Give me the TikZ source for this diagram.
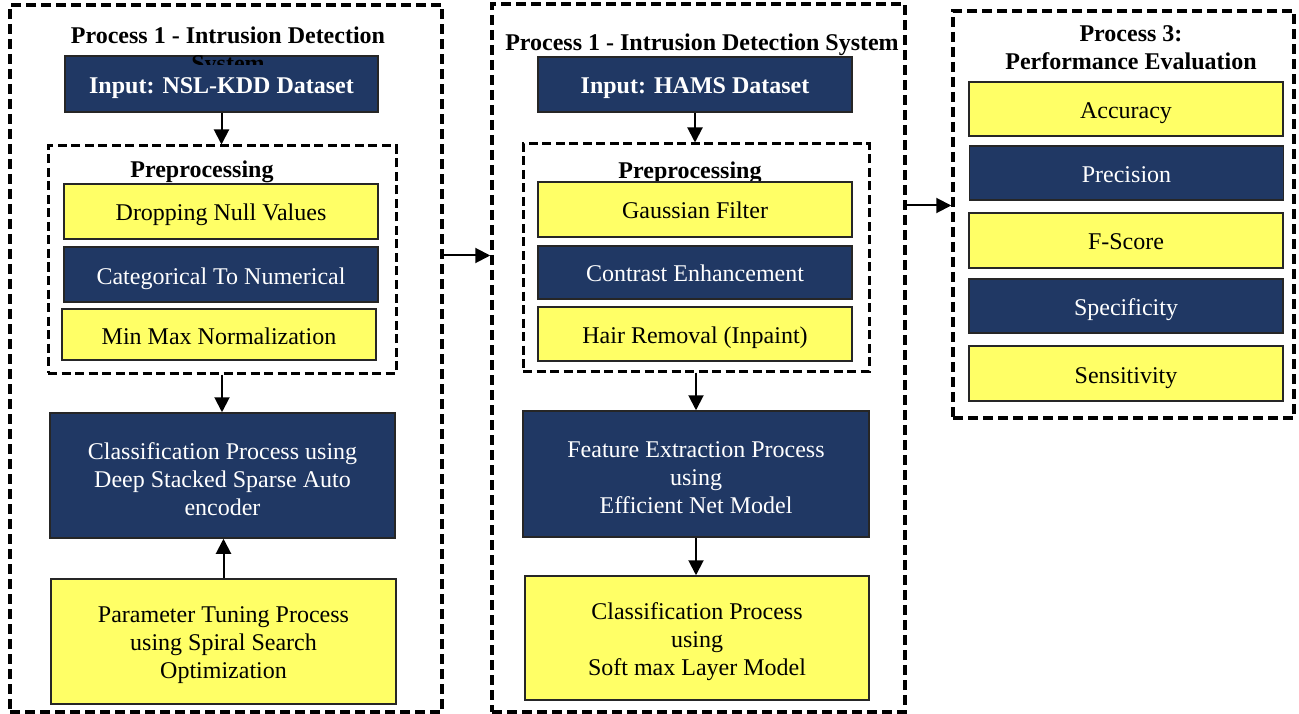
\documentclass[tikz,border=0pt]{standalone}
\usepackage{fontspec}
\setmainfont{Liberation Serif}
\usetikzlibrary{arrows.meta}
\definecolor{boxnavy}{HTML}{203864}
\definecolor{boxyellow}{HTML}{FFFF66}
\newcommand{\toprow}{\rule{0pt}{24pt}}
\tikzset{
  box/.style={draw=black!85,line width=1.5pt,inner sep=2pt,align=center,
    minimum width=314pt,minimum height=55pt,font=\fontsize{24}{28}\selectfont,
    text height=19pt,text depth=0pt},
  bigbox/.style={text height=,text depth=},
  ybox/.style={box,fill=boxyellow,text=black},
  nbox/.style={box,fill=boxnavy,text=white},
  frame/.style={draw,line width=3.5pt,dash pattern=on 10pt off 5pt,inner sep=0},
  preframe/.style={draw,line width=3pt,dash pattern=on 9pt off 4.5pt,inner sep=0},
  heading/.style={font=\fontsize{24}{28}\selectfont\bfseries,align=center,inner sep=0},
  arr/.style={line width=2pt,-{Triangle[length=15pt,width=15pt]}}
}

\begin{document}
\begin{tikzpicture}[x=1pt,y=-1pt]
\useasboundingbox (0,0) rectangle (1299,714);
% outer frames
\node[frame,minimum width=432pt,minimum height=707pt] (procA) at (226,358.5) {};
\node[frame,minimum width=413pt,minimum height=708pt] (procB) at (698.5,358) {};
\node[frame,minimum width=341pt,minimum height=407pt] (procC) at (1123.5,214.5) {};
\node[preframe,minimum width=348pt,minimum height=227pt] (preL) at (222,259.5) {};
\node[preframe,minimum width=346pt,minimum height=227pt] (preM) at (696,257.5) {};

% process 1 (left)
\node[nbox,font=\fontsize{24}{28}\selectfont\bfseries,minimum width=313pt,minimum height=56pt] (inNSL) at (221.5,84) {Input: NSL-KDD Dataset};
\begin{scope}
\clip (12,8) rectangle (440,65);
\node[heading] (titleA) at (228,52) {Process 1 - Intrusion Detection\\System};
\end{scope}
\node[heading] (preTitleL) at (202,172) {Preprocessing};
\node[ybox] (drop) at (221,211.5) {Dropping Null Values};
\node[nbox] (cat) at (221,274.5) {Categorical To Numerical};
\node[ybox,minimum height=51pt] (minmax) at (219,334.5) {Min Max Normalization};
\node[nbox,bigbox,minimum width=345pt,minimum height=125pt] (clsL) at (222.5,475.5) {\toprow Classification Process using\\Deep Stacked Sparse Auto\\encoder};
\node[ybox,bigbox,minimum width=345pt,minimum height=125pt] (tune) at (223.5,641.5) {\toprow Parameter Tuning Process\\using Spiral Search\\Optimization};

% process 1 (middle)
\node[heading] (titleB) at (702,45) {Process 1 - Intrusion Detection System};
\node[nbox,font=\fontsize{24}{28}\selectfont\bfseries] (inHAMS) at (695,84.5) {Input: HAMS Dataset};
\node[heading] (preTitleM) at (690,173) {Preprocessing};
\node[ybox] (gauss) at (695,209.5) {Gaussian Filter};
\node[nbox,minimum height=53pt] (contrast) at (695,272.5) {Contrast Enhancement};
\node[ybox,minimum height=54pt] (hair) at (695,334) {Hair Removal (Inpaint)};
\node[nbox,bigbox,minimum width=346pt,minimum height=126pt] (feat) at (696,474) {\toprow Feature Extraction Process\\using\\Efficient Net Model};
\node[ybox,bigbox,minimum width=344pt,minimum height=124pt] (clsM) at (697,638) {\toprow Classification Process\\using\\Soft max Layer Model};

% process 3
\node[heading,text depth=0pt] (titleC) at (1131,48) {Process 3:\\Performance Evaluation};
\node[ybox,minimum height=54pt] (acc) at (1126,109) {Accuracy};
\node[nbox,minimum height=54pt] (prec) at (1126.5,173) {Precision};
\node[ybox] (fscore) at (1126,240.5) {F-Score};
\node[nbox,minimum height=54pt] (spec) at (1126,306) {Specificity};
\node[ybox] (sens) at (1126,373.5) {Sensitivity};

% arrows
\draw[arr] (inNSL.south) -- (inNSL.south |- preL.north);
\draw[arr] (preL.south) -- (preL.south |- clsL.north);
\draw[arr] (tune.north) -- (tune.north |- clsL.south);
\draw[arr] (inHAMS.south) -- (inHAMS.south |- preM.north);
\draw[arr] (preM.south) -- (preM.south |- feat.north);
\draw[arr] (feat.south) -- (feat.south |- clsM.north);
\draw[arr] ([yshift=4pt]procA.east |- preL) -- ([yshift=4pt]procB.west |- preL);
\draw[arr] ([yshift=4pt]procB.east |- gauss) -- ([yshift=4pt]procC.west |- gauss);
\end{tikzpicture}
\end{document}
